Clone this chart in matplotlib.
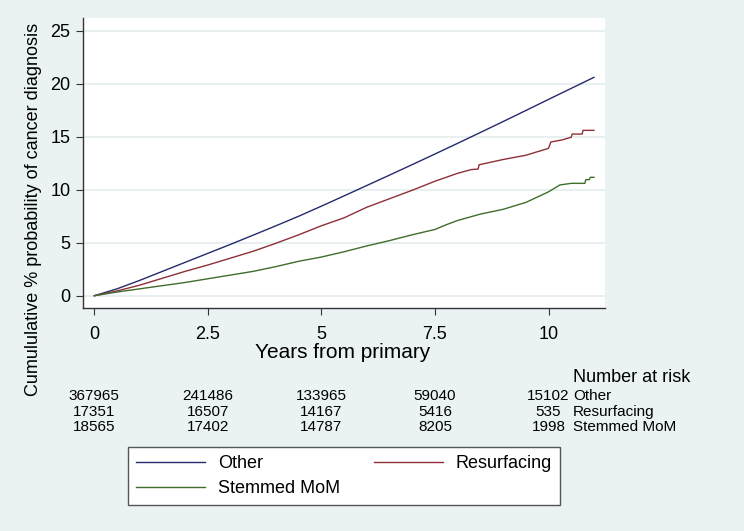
import numpy as np
import matplotlib.pyplot as plt
from matplotlib import transforms

plt.rcParams['font.family'] = ['Liberation Sans', 'DejaVu Sans']

# cumulative % probability
other_x = [0, 0.5, 1, 1.5, 2, 2.5, 3, 3.5, 4, 4.5, 5, 5.5, 6, 6.5, 7, 7.5, 8,
           8.5, 9, 9.5, 10, 10.5, 11.0]
other_y = [0, 0.65, 1.45, 2.3, 3.15, 4.0, 4.85, 5.72, 6.6, 7.5, 8.45, 9.42, 10.4,
           11.38, 12.37, 13.37, 14.38, 15.4, 16.43, 17.47, 18.52, 19.56, 20.6]

resurf_x = [0, 0.5, 1, 1.5, 2, 2.5, 3, 3.5, 4, 4.5, 5, 5.5, 6, 6.5, 7, 7.5, 8,
            8.3, 8.45, 8.47, 9, 9.5, 10.0, 10.05, 10.3, 10.5, 10.52, 10.74,
            10.76, 11.0]
resurf_y = [0, 0.45, 1.0, 1.65, 2.3, 2.9, 3.55, 4.2, 4.95, 5.75, 6.6, 7.35,
            8.35, 9.15, 9.95, 10.8, 11.55, 11.9, 11.95, 12.35, 12.85, 13.25,
            13.9, 14.5, 14.7, 14.95, 15.25, 15.25, 15.6, 15.6]

stem_x = [0, 0.5, 1, 1.5, 2, 2.5, 3, 3.5, 4, 4.5, 5, 5.5, 6, 6.5, 7, 7.5, 7.75,
          8, 8.5, 9, 9.5, 10, 10.25, 10.5, 10.8, 10.82, 10.9, 10.92, 11.0]
stem_y = [0, 0.35, 0.65, 0.95, 1.25, 1.6, 1.95, 2.3, 2.75, 3.25, 3.65, 4.15,
          4.7, 5.2, 5.75, 6.25, 6.7, 7.1, 7.7, 8.15, 8.8, 9.8, 10.45, 10.6,
          10.6, 10.95, 10.95, 11.17, 11.17]

# number at risk table
risk_times = [0, 2.5, 5, 7.5, 10]
risk_other = [367965, 241486, 133965, 59040, 15102]
risk_resurf = [17351, 16507, 14167, 5416, 535]
risk_stem = [18565, 17402, 14787, 8205, 1998]
group_names = ['Other', 'Resurfacing', 'Stemmed MoM']

c_other = '#242b6b'
c_resurf = '#8e2f38'
c_stem = '#3f6e2a'
bg = '#eaf2f3'

W, H = 744, 531
fig = plt.figure(figsize=(W / 100, H / 100), dpi=100, facecolor=bg)
ax = fig.add_axes([83 / W, 1 - 307.7 / H, (605.3 - 83) / W, (307.7 - 18.3) / H])
ax.set_facecolor('white')

l1, = ax.plot(other_x, other_y, color=c_other, lw=1.0)
l2, = ax.plot(resurf_x, resurf_y, color=c_resurf, lw=1.0)
l3, = ax.plot(stem_x, stem_y, color=c_stem, lw=1.0)

ax.set_xlim(-0.25, 11.25)
ax.set_ylim(-1.13, 26.17)
ax.set_xticks([0, 2.5, 5, 7.5, 10])
ax.set_xticklabels(['0', '2.5', '5', '7.5', '10'])
ax.set_yticks([0, 5, 10, 15, 20, 25])
ax.yaxis.grid(True, color='#e3ecee', lw=1.2)
ax.set_axisbelow(True)
for s in ['top', 'right']:
    ax.spines[s].set_visible(False)
for s in ['left', 'bottom']:
    ax.spines[s].set_color('#333333')
    ax.spines[s].set_linewidth(1.0)
ax.tick_params(axis='both', direction='out', length=5, color='#333333',
               labelsize=13, pad=4)
ax.tick_params(axis='x', pad=8)

fig.text(343 / W, 1 - 352 / H, 'Years from primary', fontsize=15,
         ha='center', va='center')
fig.text(34 / W, 1 - 209 / H, 'Cumululative % probability of cancer diagnosis',
         fontsize=13, rotation=90, ha='center', va='center')

# risk table
trans = transforms.blended_transform_factory(ax.transData, fig.transFigure)
fig.text(573 / W, 1 - 378 / H, 'Number at risk', fontsize=13, ha='left', va='center')
rows_y = [396, 412, 427]
for counts, name, yy in zip([risk_other, risk_resurf, risk_stem], group_names, rows_y):
    for t, n in zip(risk_times, counts):
        ax.text(t, 1 - yy / H, str(n), transform=trans, fontsize=11,
                ha='center', va='center', clip_on=False)
    fig.text(573 / W, 1 - yy / H, name, fontsize=11, ha='left', va='center')

leg = fig.legend([l1, l3, l2], ['Other', 'Stemmed MoM', 'Resurfacing'], ncol=2,
                 loc='center', bbox_to_anchor=(344 / W, 1 - 476 / H),
                 fontsize=13, handlelength=3.8, handletextpad=0.7,
                 columnspacing=1.9, labelspacing=0.45, borderpad=0.45,
                 fancybox=False, edgecolor='#555555', framealpha=1)
leg.get_frame().set_linewidth(1.0)

fig.savefig('out.png', dpi=100, facecolor=bg)
